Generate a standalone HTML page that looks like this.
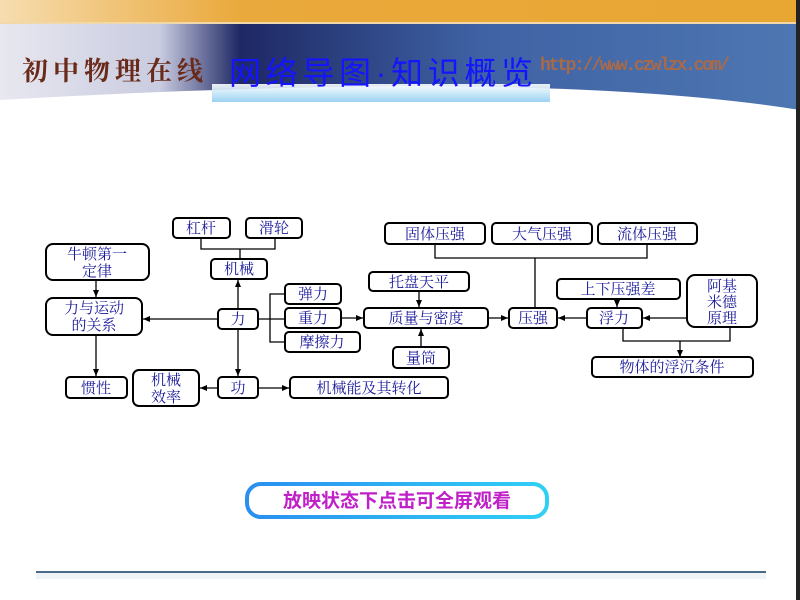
<!DOCTYPE html>
<html><head><meta charset="utf-8"><style>
html,body{margin:0;padding:0;background:#fff;}
body{width:800px;height:600px;overflow:hidden;position:relative;font-family:"Liberation Sans","Noto Sans CJK SC",sans-serif;}
</style></head><body>
<svg width="800" height="600" viewBox="0 0 800 600" xmlns="http://www.w3.org/2000/svg" style="position:absolute;left:0;top:0">
<defs>
<linearGradient id="or" x1="0" y1="0" x2="1" y2="0"><stop offset="0" stop-color="#f6ddb0"/><stop offset="0.3" stop-color="#eaa93c"/><stop offset="1" stop-color="#e8a632"/></linearGradient>
<linearGradient id="bl" x1="0" y1="0" x2="1" y2="0"><stop offset="0" stop-color="#e8e8f0"/><stop offset="0.2" stop-color="#c9cbe0"/><stop offset="0.3" stop-color="#1e2864"/><stop offset="0.6" stop-color="#3f62a4"/><stop offset="1" stop-color="#4e77b2"/></linearGradient>
<linearGradient id="cl" x1="0" y1="0" x2="0" y2="1"><stop offset="0" stop-color="#ffffff"/><stop offset="1" stop-color="#8fcdf0"/></linearGradient>
<linearGradient id="btn" x1="0" y1="0" x2="1" y2="0"><stop offset="0" stop-color="#2a8ff0"/><stop offset="1" stop-color="#30d0f5"/></linearGradient>
<marker id="a" markerWidth="8" markerHeight="8" refX="7" refY="4" orient="auto" markerUnits="userSpaceOnUse"><path d="M0,1 L7,4 L0,7 z" fill="#000"/></marker>
</defs>
<rect x="0" y="0" width="800" height="23" fill="url(#or)"/>
<rect x="0" y="22" width="800" height="2" fill="#f0d8a8"/>
<rect x="0" y="24" width="800" height="86" fill="url(#bl)"/>
<path d="M0,100 Q200,88 400,86 Q650,86 800,110 L800,120 L0,120 z" fill="#fff"/>
<rect x="796" y="0" width="4" height="600" fill="#222"/>
<rect x="212" y="84" width="338" height="18" fill="url(#cl)" opacity="0.9"/>
<text x="22" y="80" font-family="Liberation Serif,'Noto Serif CJK SC',serif" font-size="26" font-weight="bold" fill="#6a2a1a" letter-spacing="5">初中物理在线</text>
<text x="229" y="84" font-size="32" fill="#1414ff" font-family="Liberation Sans,'Noto Sans CJK SC',sans-serif" textLength="304" lengthAdjust="spacing">网络导图·知识概览</text>
<text x="540" y="70" font-size="18" font-weight="bold" fill="#a86a48" font-family="Liberation Mono,monospace" textLength="190">http://www.czwlzx.com/</text>

<g fill="none" stroke="#000" stroke-width="1.3">
<path d="M201,238 V249 H275 V238 M240,249 V259"/>
<path d="M238,309 V280" marker-end="url(#a)"/>
<path d="M218,319 H143" marker-end="url(#a)"/>
<path d="M96,280 V297" marker-end="url(#a)"/>
<path d="M96,335 V376" marker-end="url(#a)"/>
<path d="M238,329 V376" marker-end="url(#a)"/>
<path d="M218,388 H200" marker-end="url(#a)"/>
<path d="M258,388 H289" marker-end="url(#a)"/>
<path d="M258,319 H285 M285,294 H270 V342 H285"/>
<path d="M341,318 H363" marker-end="url(#a)"/>
<path d="M419,291 V307" marker-end="url(#a)"/>
<path d="M421,347 V329" marker-end="url(#a)"/>
<path d="M488,318 H508" marker-end="url(#a)"/>
<path d="M435,244 V258 H647 V244 M535,258 V308"/>
<path d="M587,318 H558" marker-end="url(#a)"/>
<path d="M617,299 V307" marker-end="url(#a)"/>
<path d="M687,318 H643" marker-end="url(#a)"/>
<path d="M623,328 V341 H730 V327 M680,341 V357" />
<path d="M680,350 V357" marker-end="url(#a)"/>
</g>

<g fill="#fff" stroke="#000" stroke-width="2">
<rect x="173" y="218" width="57" height="20" rx="4"/>
<rect x="246" y="218" width="56" height="20" rx="4"/>
<rect x="211" y="259" width="56" height="20" rx="4"/>
<rect x="46" y="244" width="103" height="36" rx="7"/>
<rect x="46" y="298" width="96" height="37" rx="7"/>
<rect x="218" y="309" width="40" height="20" rx="4"/>
<rect x="285" y="284" width="56" height="20" rx="4"/>
<rect x="285" y="308" width="56" height="20" rx="4"/>
<rect x="285" y="332" width="75" height="20" rx="4"/>
<rect x="66" y="377" width="61" height="21" rx="4"/>
<rect x="133" y="370" width="66" height="36" rx="6"/>
<rect x="218" y="377" width="40" height="21" rx="4"/>
<rect x="290" y="377" width="158" height="21" rx="4"/>
<rect x="385" y="223" width="100" height="21" rx="4"/>
<rect x="492" y="223" width="100" height="21" rx="4"/>
<rect x="598" y="223" width="99" height="21" rx="4"/>
<rect x="369" y="272" width="100" height="19" rx="4"/>
<rect x="364" y="308" width="124" height="20" rx="4"/>
<rect x="509" y="308" width="48" height="20" rx="4"/>
<rect x="587" y="308" width="55" height="20" rx="4"/>
<rect x="557" y="279" width="123" height="20" rx="4"/>
<rect x="687" y="275" width="70" height="52" rx="8"/>
<rect x="393" y="347" width="56" height="21" rx="4"/>
<rect x="592" y="357" width="161" height="20" rx="4"/>
</g>

<g fill="#1a1a9a" font-size="15" text-anchor="middle" font-family="Liberation Serif,'Noto Serif CJK SC',serif">
<text x="201" y="233">杠杆</text>
<text x="274" y="233">滑轮</text>
<text x="239" y="274">机械</text>
<text x="97" y="259">牛顿第一</text>
<text x="97" y="276">定律</text>
<text x="94" y="313">力与运动</text>
<text x="94" y="330">的关系</text>
<text x="238" y="324">力</text>
<text x="313" y="299">弹力</text>
<text x="313" y="323">重力</text>
<text x="322" y="347">摩擦力</text>
<text x="96" y="393">惯性</text>
<text x="166" y="385">机械</text>
<text x="166" y="402">效率</text>
<text x="238" y="393">功</text>
<text x="369" y="393">机械能及其转化</text>
<text x="435" y="239">固体压强</text>
<text x="542" y="239">大气压强</text>
<text x="647" y="239">流体压强</text>
<text x="419" y="287">托盘天平</text>
<text x="426" y="323">质量与密度</text>
<text x="533" y="323">压强</text>
<text x="614" y="323">浮力</text>
<text x="618" y="294">上下压强差</text>
<text x="722" y="291">阿基</text>
<text x="722" y="307">米德</text>
<text x="722" y="323">原理</text>
<text x="421" y="363">量筒</text>
<text x="672" y="372">物体的浮沉条件</text>
</g>

<rect x="247" y="484" width="300" height="33" rx="14" fill="#fff" stroke="url(#btn)" stroke-width="4"/>
<text x="397" y="507" text-anchor="middle" font-size="19" font-weight="bold" fill="#c020c8" font-family="Liberation Sans,'Noto Sans CJK SC',sans-serif">放映状态下点击可全屏观看</text>

<rect x="36" y="571" width="730" height="2" fill="#4a6a8a"/>
<rect x="36" y="573" width="730" height="6" fill="#eef3f6"/>
</svg>
</body></html>
